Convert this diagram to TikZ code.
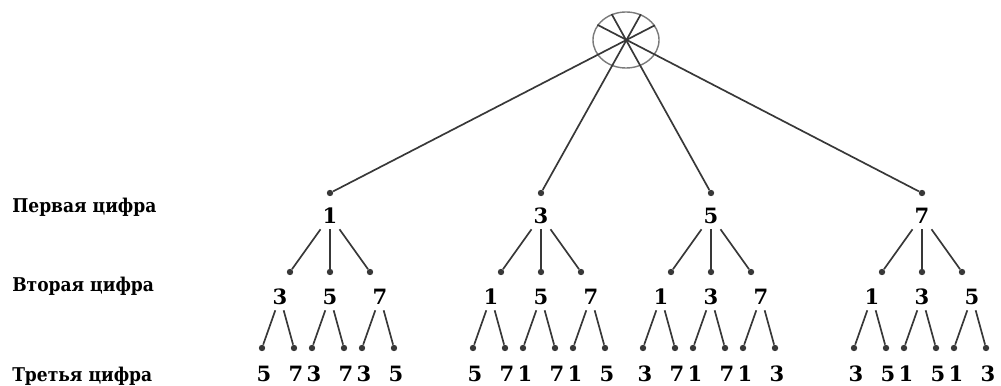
\documentclass[tikz,border=0pt]{standalone}
\usepackage{fontspec}
\setmainfont{DejaVu Serif}
\newfontfamily\labelfont{DejaVu Serif Condensed}
\usetikzlibrary{shapes.geometric}
\definecolor{trline}{HTML}{383838}
\definecolor{trcirc}{HTML}{7A7A7A}

\begin{document}
\begin{tikzpicture}[x=0.025cm, y=-0.025cm,
  link/.style={trline, line width=1.2pt},
  dot/.style={circle, fill=trline, inner sep=0pt, minimum size=0.16cm},
  num/.style={font=\bfseries\fontsize{15}{17}\selectfont, inner sep=0pt, minimum width=0.55cm, minimum height=0.65cm},
  lbl/.style={font=\labelfont\bfseries\fontsize{13.5}{16}\selectfont, anchor=base west, inner sep=0pt},
  startnode/.style={ellipse, draw=trcirc, line width=1pt, minimum width=1.65cm, minimum height=1.4cm, inner sep=0pt}
]
  \useasboundingbox (0,0) rectangle (1001,386);
  \node[startnode] (root) at (626,40) {};

  \node[lbl] (first) at (12,213) {Первая цифра};
  \node[lbl] (second) at (12,292) {Вторая цифра};
  \node[lbl] (third) at (12,382) {Третья цифра};

  % first digit, then the two levels below it
  \foreach \a/\xa in {1/330, 3/541, 5/711, 7/922} {
    \pgfmathsetmacro\angopp{atan2(153, 626-\xa)}
    \node[dot] (d\a) at (\xa,193) {};
    \node[num] (n\a) at (\xa,216) {\a};
    \draw[link] (root.\angopp) -- (d\a);
    \foreach \b in {1,3,5,7} {
      \ifnum\b=\a\else
        \pgfmathtruncatemacro\k{(\b-1)/2-(\b>\a)-1}
        \pgfmathsetmacro\xbd{\xa+40*\k}
        \pgfmathsetmacro\xb{\xa+50*\k}
        \node[dot] (d\a\b) at (\xbd,272) {};
        \node[num] (n\a\b) at (\xb,297) {\b};
        \draw[link] (n\a) -- (d\a\b);
        \foreach \c in {1,3,5,7} {
          \ifnum\c=\a\else\ifnum\c=\b\else
            \pgfmathtruncatemacro\m{(\c-1)/2-(\c>\a)-(\c>\b)}
            \pgfmathsetmacro\xc{\xb-18+32*\m}
            \node[dot] (d\a\b\c) at (\xc,348) {};
            \node[num] (n\a\b\c) at (\xc+2,374) {\c};
            \draw[link] (n\a\b) -- (d\a\b\c);
          \fi\fi
        }
      \fi
    }
  }
\end{tikzpicture}
\end{document}
